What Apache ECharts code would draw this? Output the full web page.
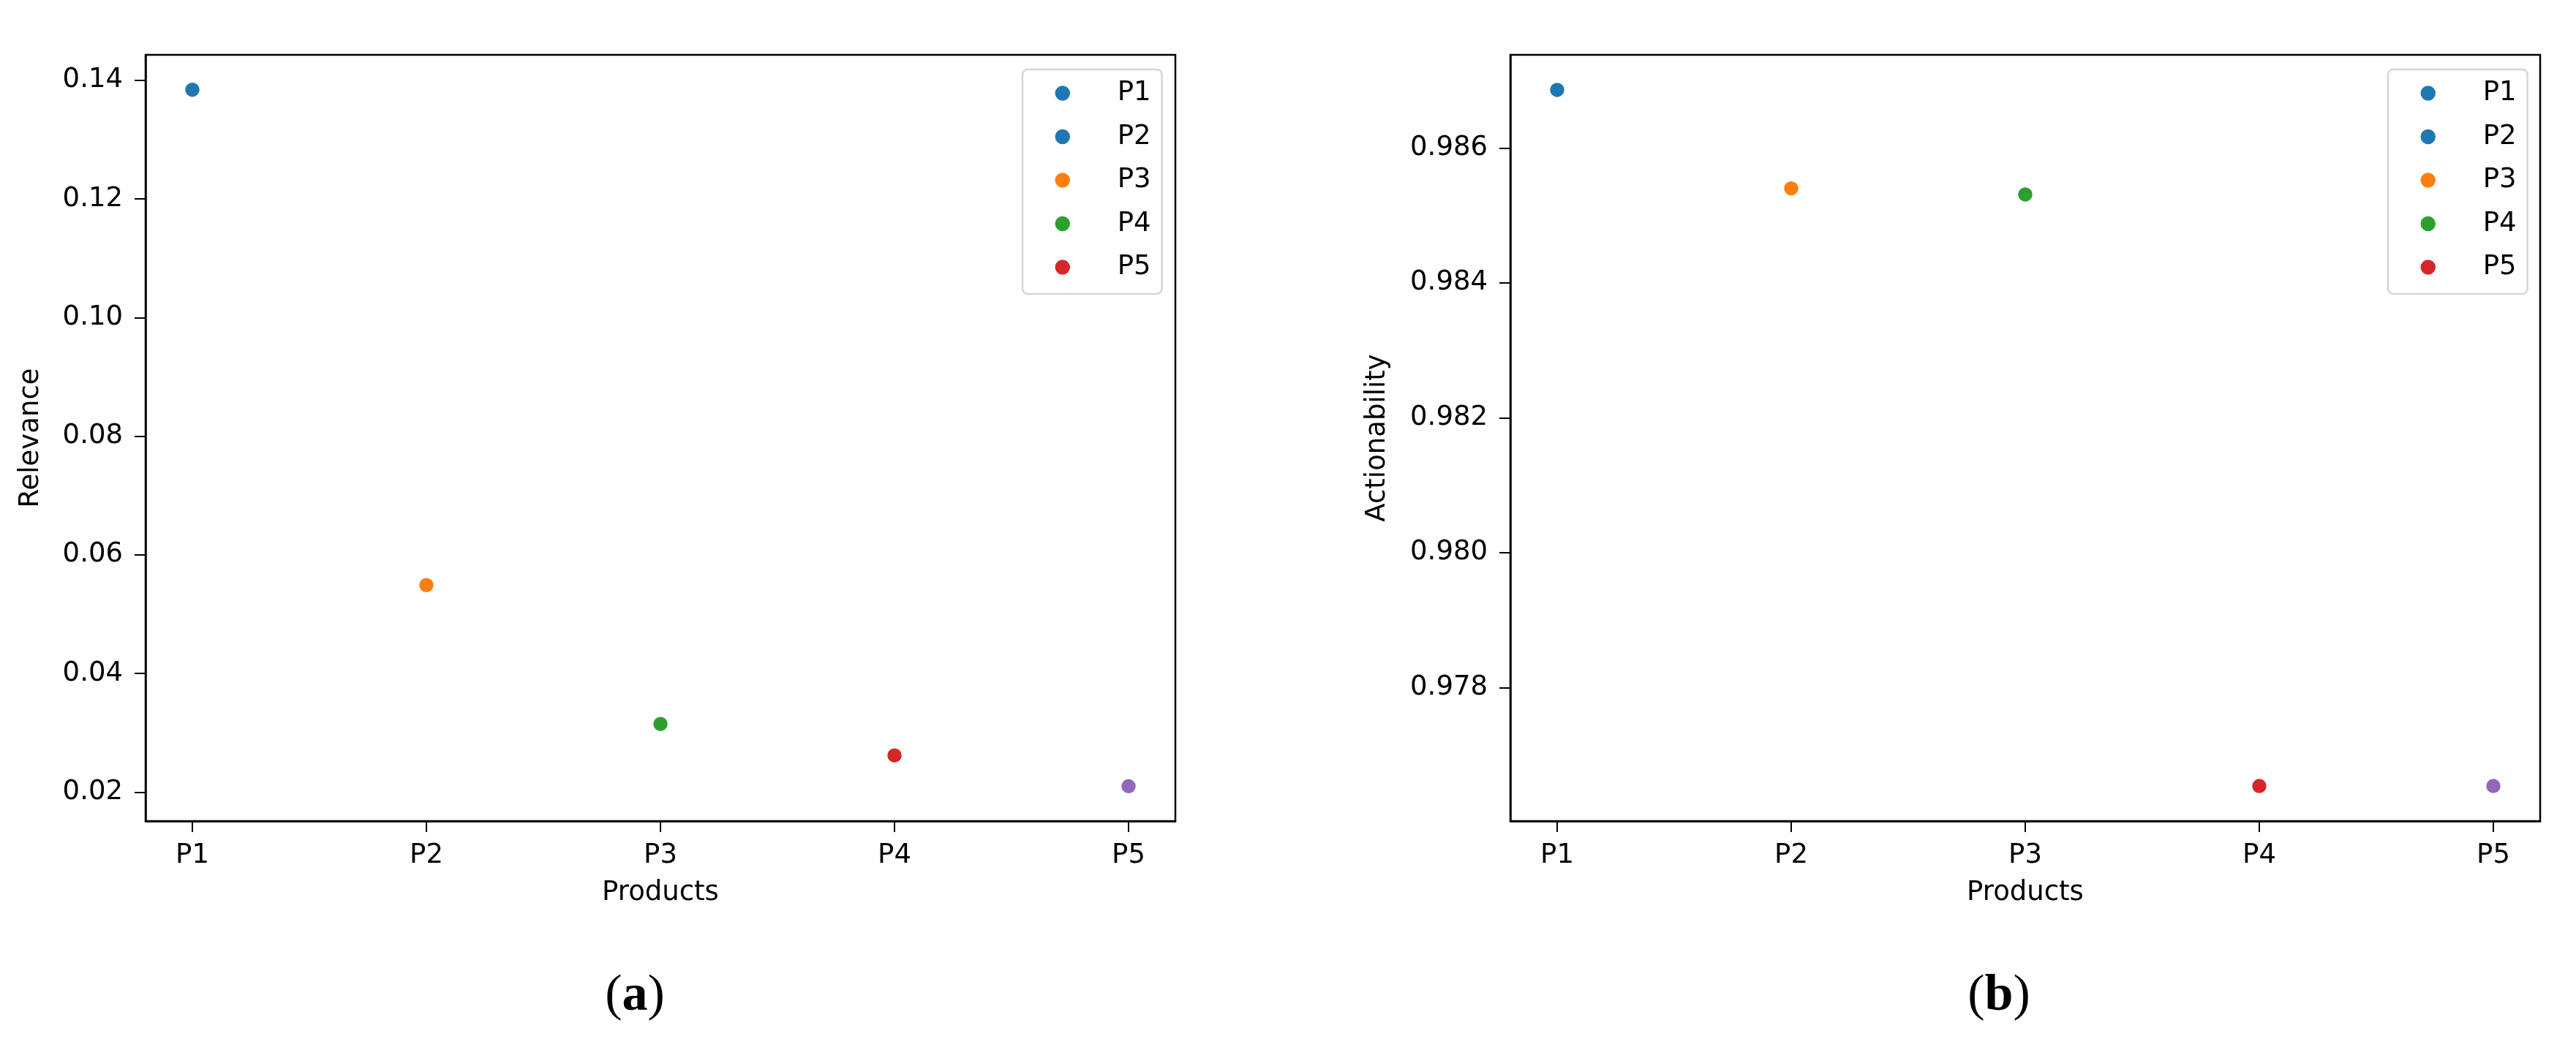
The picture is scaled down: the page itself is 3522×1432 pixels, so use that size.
<!DOCTYPE html>
<html>
<head>
<meta charset="utf-8">
<script src="https://cdn.jsdelivr.net/npm/echarts@6/dist/echarts.min.js"></script>
<style>
  html, body { margin: 0; padding: 0; background: #fff; }
  #chart { width: 3522px; height: 1432px; }
</style>
</head>
<body>
<div id="chart"></div>
<script>
var products = ["P1", "P2", "P3", "P4", "P5"];
var relevance = [0.1384, 0.0549, 0.0315, 0.0262, 0.0210];
var actionability = [0.98686, 0.98540, 0.98531, 0.97654, 0.97654];
var relevanceTicks = [0.02, 0.04, 0.06, 0.08, 0.10, 0.12, 0.14];
var actionTicks = [0.978, 0.980, 0.982, 0.984, 0.986];
var xTicks = [0, 1, 2, 3, 4];
// point colours (hue by product) and the legend colours as drawn in the figure
var pointColors = ["#1f77b4", "#ff7f0e", "#2ca02c", "#d62728", "#9467bd"];
var legendColors = ["#1f77b4", "#1f77b4", "#ff7f0e", "#2ca02c", "#d62728"];

var FONT = "DejaVu Sans";
var FS = 37;

function makeX(gridIndex) {
    return {
        type: 'value', gridIndex: gridIndex, min: -0.2, max: 4.2,
        name: 'Products', nameLocation: 'middle', nameGap: 80,
        nameTextStyle: { fontFamily: FONT, fontSize: FS, color: '#000' },
        axisLine: { show: true, onZero: false, lineStyle: { color: '#000', width: 2.5 } },
        axisTick: { show: true, customValues: xTicks, length: 15, lineStyle: { color: '#000', width: 2 } },
        axisLabel: {
            customValues: xTicks, margin: 29,
            fontFamily: FONT, fontSize: FS, color: '#000',
            formatter: function (v) { return products[Math.round(v)]; }
        },
        splitLine: { show: false }
    };
}

function makeY(gridIndex, name, min, max, ticks, digits, gap) {
    return {
        type: 'value', gridIndex: gridIndex, min: min, max: max,
        name: name, nameLocation: 'middle', nameGap: gap,
        nameTextStyle: { fontFamily: FONT, fontSize: FS, color: '#000' },
        axisLine: { show: true, onZero: false, lineStyle: { color: '#000', width: 2.5 } },
        axisTick: { show: true, customValues: ticks, length: 15, lineStyle: { color: '#000', width: 2 } },
        axisLabel: {
            customValues: ticks, margin: 31,
            fontFamily: FONT, fontSize: FS, color: '#000',
            formatter: function (v) { return v.toFixed(digits); }
        },
        splitLine: { show: false }
    };
}

function makeSeries(gridIndex, values) {
    return products.map(function (p, i) {
        return {
            name: p, type: 'scatter',
            xAxisIndex: gridIndex, yAxisIndex: gridIndex,
            symbol: 'circle', symbolSize: 21,
            itemStyle: { color: pointColors[i], borderColor: '#fff', borderWidth: 1.5, opacity: 1 },
            data: [[i, values[i]]]
        };
    });
}

function makeLegend(left) {
    return {
        orient: 'vertical', left: left, top: 95,
        icon: 'circle', itemWidth: 22, itemHeight: 22, itemGap: 22.5,
        padding: [14, 15, 18, 43],
        backgroundColor: '#fff', borderColor: '#d6d6d6', borderWidth: 2.5, borderRadius: 7,
        textStyle: { fontFamily: FONT, fontSize: FS, color: '#000', lineHeight: 37, padding: [0, 0, 0, 59] },
        data: products.map(function (p, i) {
            return { name: p, itemStyle: { color: legendColors[i], borderColor: '#fff', borderWidth: 1.5 } };
        })
    };
}

function caption(x, letter) {
    return {
        type: 'text', x: x, y: 1363,
        style: {
            text: '{p|(}{b|' + letter + '}{p|)}',
            align: 'center', verticalAlign: 'middle',
            rich: {
                p: { fontFamily: 'Liberation Serif', fontSize: 70, color: '#000' },
                b: { fontFamily: 'Liberation Serif', fontSize: 70, fontWeight: 'bold', color: '#000' }
            }
        }
    };
}

var chart = echarts.init(document.getElementById('chart'));
chart.setOption({
    animation: false,
    backgroundColor: '#fff',
    grid: [
        { left: 199, top: 75, width: 1408, height: 1048, show: true, borderColor: '#000', borderWidth: 2.5, backgroundColor: 'transparent' },
        { left: 2065, top: 75, width: 1408, height: 1048, show: true, borderColor: '#000', borderWidth: 2.5, backgroundColor: 'transparent' }
    ],
    xAxis: [makeX(0), makeX(1)],
    yAxis: [
        makeY(0, 'Relevance', 0.01513, 0.14427, relevanceTicks, 2, 138),
        makeY(1, 'Actionability', 0.97602, 0.98738, actionTicks, 3, 163)
    ],
    legend: [makeLegend(1398), makeLegend(3265)],
    series: makeSeries(0, relevance).concat(makeSeries(1, actionability)),
    graphic: [caption(868, 'a'), caption(2733, 'b')]
});
</script>
</body>
</html>
